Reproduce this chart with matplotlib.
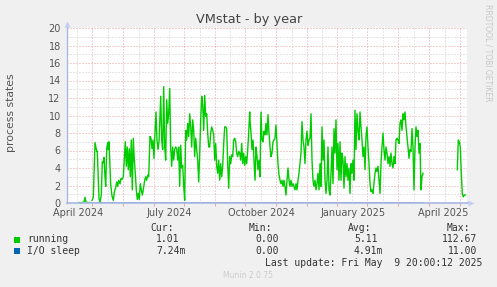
import matplotlib
matplotlib.use("Agg")
import matplotlib.pyplot as plt
import numpy as np

# process states, running (one reading every ~day, NaN = gap in data)
days = [12, 15, 17, 18, 19, 21, 23, 24,
        25, 26.3, 28, 29.7, 30.3, 32, 33, 34.3, 35.3, 36.3, 37, 38, 38.7, 39.7,
        40.7, 41.3, 42, 43, 43.7, 45, 46.3, 47.3, 48.7, 49.7, 50.7, 51.7, 53, 54,
        55, 56.3, 57.3, 58.3, 59.3, 60.3, 61.3, 62.3, 63.3, 64.3, 65.3, 66.3, 67.3,
        68.3, 69.3, 70.3, 71.3, 72.3, 73.3, 74.3, 75.3, 76.3, 77.7, 78.7, 79.7,
        80.7, 81.7, 83, 84, 85, 86, 87, 88, 89, 90, 91, 92,
        93.7, 94.7, 95.7, 96.7, 97.7, 98.7, 99.7, 100.7, 101.7, 102.7, 103.7,
        104.7, 105.7, 106.7, 107.7, 108.7, 109.7, 110.7, 111.7, 112.7, 113.7,
        114.7, 115.7, 116.7, 117.7, 118.7, 119.7, 120.7, 121.7, 122.7, 123.7,
        124.7, 125.7, 126.7, 127.7, 128.7, 129.7, 130.7, 131.7, 132.7, 133.7,
        134.7, 135.7, 136.7, 137.7, 138.7, 139.7, 140.7, 141.7, 142.7, 143.7,
        144.7, 145.7, 146.7, 147.7, 148.7, 149.7, 150.7, 151.7, 152.7, 153.7,
        154.7, 155.7, 156.7, 157.7, 158.7, 159.7, 160.7, 161.7, 162.7, 163.7,
        164.7, 165.7, 166.7, 167.7, 168.7, 169.7, 170.7, 171.7, 172.7, 173.7,
        174.7, 175.7, 176.7, 177.7, 178.7, 179.7, 180.7, 181.7, 182.7,
        183, 184, 185, 186, 187, 188, 189, 190, 191, 192, 193, 194, 195, 196,
        197, 198, 199, 200, 201, 202, 203, 204, 205, 206, 207, 208, 209, 210,
        211, 212, 213, 214, 215, 216, 217, 218, 219, 220, 221, 222, 223, 224,
        225, 226, 227, 228, 229, 230, 231, 232, 233, 234, 235, 236, 237, 238,
        239, 240, 241, 242, 243, 244, 245, 246, 247, 248, 249, 250, 251, 252,
        253, 254, 255, 256, 257, 258, 259, 260, 261, 262, 263, 264, 265, 266,
        267, 268, 269, 270, 271, 272, 273, 274, 275, 276, 277, 278, 279, 280,
        281, 282, 283, 284, 285, 286, 287, 288, 289, 290, 291, 292, 293, 294,
        295, 296, 297, 298, 299, 300, 301, 302, 303, 304, 305, 306, 307, 308,
        309, 310, 311, 312, 313, 314, 315, 316, 317, 318, 319, 320, 321, 322,
        323, 324, 325, 326, 327, 328, 329, 330, 331, 332, 333, 334, 335, 336,
        337, 338, 339, 340, 341, 342, 343, 344, 345, 346, 347, 348, 349, 350,
        351, 352, 353, 354, 355, 356, 357,
        390.3, 391.3, 392.3, 393.3, 394.3, 395.3, 396.3, 397.3, 398.3]
running = [0.05, 0.05, 0.1, 0.65, 0.1, 0.05, 0.05, np.nan,
           0.3, 0.65, 6.9, 5.9, 5.9, 0.5, 0.1, 0.9, 4.7, 4.6, 5.2, 3.0, 1.9, 6.2,
           6.9, 6.1, 7.0, 4.2, 2.1, 0.8, 0.3, 1.2, 1.8, 2.4, 1.9, 2.6, 2.2, 2.8,
           2.7, 3.0, 4.9, 7.0, 4.2, 6.4, 3.8, 6.2, 3.0, 7.2, 1.5, 7.4, 4.9,
           3.4, 1.5, 0.4, 1.1, 0.4, 2.2, 1.5, 0.9, 1.5, 2.6, 3.0, 2.6,
           3.2, 3.0, 7.6, 7.4, 6.2, 7.2, 5.1, 8.0, 10.4, 7.2, 6.1, 7.0,
           12.2, 7.2, 6.1, 13.3, 6.4, 4.9, 11.8, 9.1, 10.2, 13.1, 6.4,
           4.2, 6.4, 4.9, 6.1, 6.4, 6.2, 4.9, 6.4, 1.9, 6.6,
           4.0, 4.3, 1.9, 0.3, 8.3, 7.2, 9.1, 7.6, 10.2, 8.7,
           6.4, 9.5, 8.3, 5.3, 7.4, 6.1, 4.9, 2.4, 5.7, 9.5,
           12.2, 11.2, 8.3, 12.3, 9.9, 10.2, 8.0, 6.4, 6.4, 8.0,
           8.7, 8.3, 7.8, 4.9, 6.8, 4.2, 3.4, 4.9, 2.6, 4.5,
           3.0, 4.2, 6.8, 8.7, 8.7, 8.5, 4.5, 1.7, 5.3, 4.5,
           5.5, 5.3, 7.2, 7.4, 7.0, 5.7, 5.3, 5.9, 5.7, 4.9,
           6.8, 4.5, 5.7, 4.3, 5.3, 4.5, 6.1, 8.0, 10.4,
           9.5, 8.0, 6.1, 7.2, 4.9, 2.6, 6.4, 5.3, 3.8, 4.9, 3.0, 10.4, 7.2, 7.0,
           8.2, 7.8, 9.1, 7.8, 10.1, 8.0, 6.4, 5.3, 5.7, 7.0, 7.2, 7.4, 8.9, 6.8,
           4.5, 3.2, 2.6, 2.2, 2.6, 1.9, 2.6, 1.9, 0.9, 2.6, 4.0, 2.6, 1.9, 2.6,
           1.9, 2.2, 1.9, 1.5, 2.2, 1.5, 2.6, 3.4, 4.5, 5.7, 9.3, 7.2, 6.4, 4.5,
           7.2, 8.2, 6.6, 7.2, 7.4, 10.2, 4.9, 2.6, 1.9, 2.6, 1.5, 2.2, 3.4, 1.5,
           4.5, 1.9, 8.7, 4.9, 7.2, 2.6, 1.1, 2.6, 6.4, 1.5, 0.9, 3.4, 6.4, 2.2,
           8.5, 5.7, 9.5, 3.8, 6.8, 2.6, 7.0, 2.6, 5.7, 4.9, 1.7, 5.3, 3.0, 4.5,
           2.6, 4.0, 1.1, 4.5, 3.4, 4.9, 2.6, 10.6, 6.1, 10.2, 8.3, 7.2, 10.4, 8.7,
           7.2, 5.3, 6.4, 3.8, 7.6, 8.7, 6.4, 4.5, 2.2, 1.3, 1.5, 1.1, 2.2, 3.4,
           4.0, 3.6, 4.2, 2.6, 1.1, 4.5, 6.4, 8.0, 6.1, 4.9, 6.4, 5.7, 4.5, 5.3,
           4.2, 5.7, 4.5, 4.0, 5.3, 4.5, 7.2, 7.4, 7.2, 6.8, 9.1, 9.5, 8.3, 10.2,
           9.5, 10.4, 8.7, 7.6, 6.4, 5.1, 6.1, 5.9, 8.5, 6.4, 1.5, 6.4, 8.7, 7.6,
           8.3, 5.7, 6.8, 1.5, 3.0, 3.4, np.nan,
           3.8, 7.2, 7.0, 6.4, 3.4, 1.1, 0.7, 0.9, 0.9]

# I/O sleep stays a few milli-processes all year
io_days = [12, 100, 200, 300, 356]
io_sleep = [0.0, 0.005, 0.004, 0.006, 0.007]

# grid / tick positions (days from the left edge of the graph)
month_lines = [25, 56, 87, 117, 148, 178, 209, 240, 270, 300, 331, 362, 393]
half_month_lines = [9.7, 40.5, 71.5, 102, 132.5, 163, 193.5, 224.5, 255, 285, 315.5, 346.5, 377.5]
label_pos = [11, 102, 194, 286, 376]
label_txt = ["April 2024", "July 2024", "October 2024", "January 2025", "April 2025"]

W, H = 497, 287
BG = "#F0F0F0"
AXC = "#A8B8E4"

fig = plt.figure(figsize=(W / 100, H / 100), dpi=100, facecolor=BG)
ax = fig.add_axes([67 / W, 1 - 203 / H, 400 / W, 175 / H])
ax.set_facecolor("white")
ax.set_xlim(0, 400)
ax.set_ylim(0, 20)

# grid, dotted like rrdtool
for y in range(1, 20, 2):
    ax.axhline(y, color="#CCCCCC", lw=0.72, ls=(0, (1, 2)), zorder=1)
for y in range(2, 21, 2):
    ax.axhline(y, color="#E8A0A0", lw=0.72, ls=(0, (1, 2)), zorder=1)
for x in half_month_lines:
    ax.axvline(x, color="#CCCCCC", lw=0.72, ls=(0, (1, 2)), zorder=1)
for x in month_lines:
    ax.axvline(x, color="#E8A0A0", lw=0.72, ls=(0, (1, 2)), zorder=1)

ax.plot(io_days, io_sleep, color="#0066B3", lw=0.7, zorder=2)
ax.plot(days, running, color="#00CC00", lw=1.0, zorder=4)

for s in ax.spines.values():
    s.set_visible(False)

# axes with arrows
ax.plot([0, 0], [0, 20.3], color=AXC, lw=1.0, clip_on=False, zorder=5)
ax.plot([0, 403], [0, 0], color=AXC, lw=1.2, clip_on=False, zorder=5)
ax.plot([0], [20.5], marker="^", ms=4, color="#C4CEF0", mec="none", clip_on=False, zorder=5)
ax.plot([404], [0], marker=">", ms=4, color="#C4CEF0", mec="none", clip_on=False, zorder=5)

ax.set_yticks(range(0, 21, 2))
ax.tick_params(axis="y", length=0, pad=4.5, labelsize=7, labelcolor="#555555")
ax.set_xticks(label_pos)
ax.set_xticklabels(label_txt)
ax.tick_params(axis="x", which="major", length=0, pad=3.5, labelsize=7, labelcolor="#555555")
ax.set_xticks(month_lines, minor=True)
ax.tick_params(axis="x", which="minor", length=2, color="#E8A0A0", width=0.7)

def px(x, y):
    return x / W, 1 - y / H

fig.text(*px(249, 19), "VMstat - by year", ha="center", va="center", fontsize=9.3, color="#444444")
fig.text(*px(11, 113), "process states", ha="center", va="center", rotation=90, fontsize=7.8, color="#555555")
fig.text(*px(488, 53), "RRDTOOL / TOBI OETIKER", ha="center", va="center", rotation=270,
         fontsize=5.5, color="#C8C8C8")
fig.text(*px(248, 276), "Munin 2.0.75", ha="center", va="center", fontsize=5.5, color="#CCCCCC")

mono = dict(family="DejaVu Sans Mono", fontsize=7, color="#333333", va="center")
for x, t in [(150, "Cur:"), (248.5, "Min:"), (348, "Avg:"), (447, "Max:")]:
    fig.text(*px(x, 228), t, ha="left", **mono)

rows = [("running", "#00CC00", 239.5, ["1.01", "0.00", "5.11", "112.67"]),
        ("I/O sleep", "#0066B3", 251, ["7.24m", "0.00", "4.91m", "11.00"])]
for name, col, y, vals in rows:
    fig.patches.append(plt.Rectangle(px(14, y + 3), 6 / W, 6 / H, transform=fig.transFigure,
                                     facecolor=col, edgecolor="none"))
    fig.text(*px(27, y), name, ha="left", **mono)
    fig.text(*px(156, y), vals[0], ha="left", **mono)
    fig.text(*px(255, y), vals[1], ha="left", **mono)
    fig.text(*px(354, y), vals[2], ha="left", **mono)
    fig.text(*px(477, y), vals[3], ha="right", **mono)

fig.text(*px(482, 263), "Last update: Fri May  9 20:00:12 2025", ha="right", **mono)

fig.savefig("out.png", dpi=100, facecolor=BG)
